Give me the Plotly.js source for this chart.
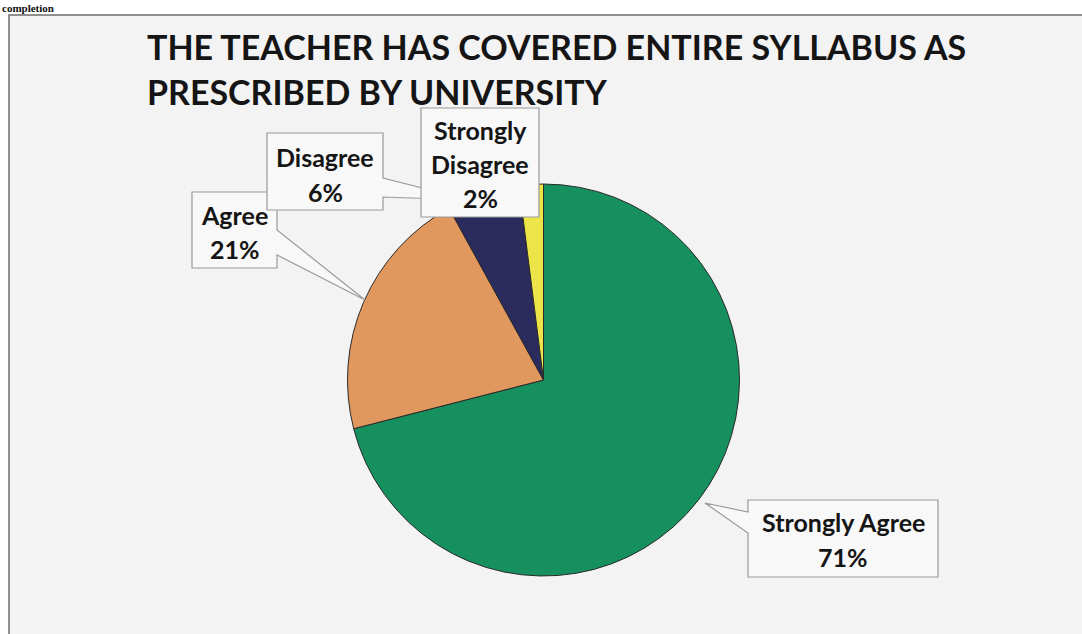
<!DOCTYPE html>
<html>
<head>
<meta charset="utf-8">
<script src="https://cdn.plot.ly/plotly-3.0.1.min.js"></script>
<style>
  html, body { margin: 0; padding: 0; background: #ffffff; }
  #chart { width: 1082px; height: 634px; }
</style>
</head>
<body>
<div id="chart"></div>
<script>
// ---- data ----
const labels = ['Strongly Agree', 'Agree', 'Disagree', 'Strongly Disagree'];
const values = [71, 21, 6, 2];
const colors = ['#16905e', '#e1985e', '#2b2b5d', '#ece449'];
const labelLines = [['Strongly Agree'], ['Agree'], ['Disagree'], ['Strongly', 'Disagree']];
const titleLines = ['THE TEACHER HAS COVERED ENTIRE SYLLABUS AS', 'PRESCRIBED BY UNIVERSITY'];
const cutText = 'completion';

// ---- layout helpers (pixel -> paper) ----
const W = 1082, H = 634;
const px = x => x / W;
const py = y => 1 - y / H;

// pie placement
const cx = 543.5, cy = 380, r = 196;

// callout boxes: [left, top, right, bottom], pointer: [side, p1, p2, tipX, tipY]
const boxes = [
  {box: [748, 500, 938, 577], ptr: ['left', 512, 533, 705, 503], cx: 843, lines: [521.5, 556.5]},
  {box: [192, 192, 277, 268], ptr: ['right', 230, 255, 365, 300], cx: 234.5, lines: [215, 248.5]},
  {box: [267, 133, 383, 210], ptr: ['right', 178, 197, 470, 200], cx: 325, lines: [156.5, 191.5]},
  {box: [421, 108, 539, 217], ptr: null, cx: 480, lines: [130, 164, 198]}
];

function calloutPath(b) {
  const [l, t, rr, bt] = b.box;
  const P = (x, y) => px(x) + ',' + py(y);
  if (!b.ptr) {
    return 'M' + P(l, t) + 'L' + P(rr, t) + 'L' + P(rr, bt) + 'L' + P(l, bt) + 'Z';
  }
  const [side, a1, a2, tx, ty] = b.ptr;
  if (side === 'left') {
    return 'M' + P(l, t) + 'L' + P(rr, t) + 'L' + P(rr, bt) + 'L' + P(l, bt) +
      'L' + P(l, a2) + 'L' + P(tx, ty) + 'L' + P(l, a1) + 'Z';
  }
  return 'M' + P(l, t) + 'L' + P(rr, t) + 'L' + P(rr, a1) + 'L' + P(tx, ty) +
    'L' + P(rr, a2) + 'L' + P(rr, bt) + 'L' + P(l, bt) + 'Z';
}

const shapes = [
  // chart area background with frame
  {type: 'rect', xref: 'paper', yref: 'paper', x0: px(9), x1: px(1100), y0: py(660), y1: py(15),
   fillcolor: '#f3f3f3', line: {color: '#6e6e6e', width: 1.5}, layer: 'below'}
];
boxes.forEach(b => {
  shapes.push({type: 'path', xref: 'paper', yref: 'paper', path: calloutPath(b),
    fillcolor: '#f8f8f8', line: {color: '#9a9a9a', width: 1.2}, layer: 'above'});
});

const annotations = [];
const lblFont = {family: 'Lato, "Open Sans", sans-serif', size: 25, color: '#151515', weight: 700};
boxes.forEach((b, i) => {
  const lines = labelLines[i].concat([values[i] + '%']);
  lines.forEach((txt, j) => {
    annotations.push({xref: 'paper', yref: 'paper', x: px(b.cx), y: py(b.lines[j]),
      xanchor: 'center', yanchor: 'middle', text: txt, showarrow: false, font: lblFont});
  });
});
// title
const titleFont = {family: 'Lato, "Open Sans", sans-serif', size: 34, color: '#151515', weight: 700};
const titleY = [47, 92];
titleLines.forEach((t, j) => {
  annotations.push({xref: 'paper', yref: 'paper', x: px(145), y: py(titleY[j]),
    xanchor: 'left', yanchor: 'middle', text: t, showarrow: false, font: titleFont});
});
// small text above the frame
annotations.push({xref: 'paper', yref: 'paper', x: px(1), y: py(1), xanchor: 'left', yanchor: 'top',
  text: cutText, showarrow: false, borderpad: 0,
  font: {family: '"Liberation Serif", "DejaVu Serif", serif', size: 11, color: '#111', weight: 700}});

const data = [{
  type: 'pie',
  labels: labels,
  values: values,
  sort: false,
  direction: 'clockwise',
  rotation: 0,
  textinfo: 'none',
  hoverinfo: 'label+percent',
  marker: {colors: colors, line: {color: '#2a2a2a', width: 1}},
  domain: {x: [px(cx - r), px(cx + r)], y: [py(cy + r), py(cy - r)]},
  showlegend: false
}];

const layout = {
  width: W, height: H,
  margin: {l: 0, r: 0, t: 0, b: 0},
  paper_bgcolor: '#ffffff',
  plot_bgcolor: '#ffffff',
  showlegend: false,
  shapes: shapes,
  annotations: annotations
};

Plotly.newPlot('chart', data, layout, {displayModeBar: false, staticPlot: true});
</script>
</body>
</html>
